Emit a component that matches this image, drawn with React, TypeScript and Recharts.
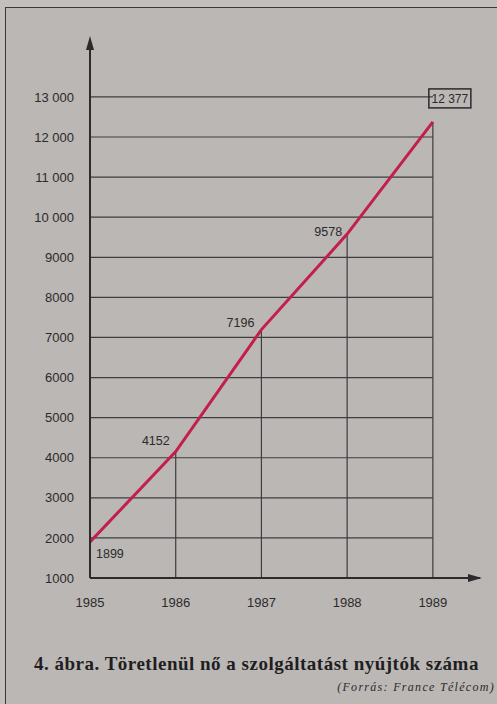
import {
    LineChart,
    Line,
    XAxis,
    YAxis,
    ReferenceLine,
    ReferenceDot,
    LabelList,
} from "recharts";

const YEARS = [1985, 1986, 1987, 1988, 1989];
const PROVIDERS = [1899, 4152, 7196, 9578, 12377];
const Y_TICKS = [1000, 2000, 3000, 4000, 5000, 6000, 7000, 8000, 9000, 10000, 11000, 12000, 13000];
const CAPTION = "4. ábra. Töretlenül nő a szolgáltatást nyújtók száma";
const SOURCE = "(Forrás: France Télécom)";

const data = YEARS.map((year, i) => ({ year, value: PROVIDERS[i] }));

const INK = "#2b2a2c";
const LINE_COLOR = "#c21f4b";
const FONT = "'Liberation Sans', Arial, sans-serif";

// szám formázás: 13 000, de 9000
const fmt = (v: number) =>
    v >= 10000 ? `${Math.floor(v / 1000)} ${String(v % 1000).padStart(3, "0")}` : String(v);

// címkék eltolása pontonként
const LABEL_POS = [
    { dx: 6, dy: 12, anchor: "start" },
    { dx: -6, dy: -11, anchor: "end" },
    { dx: -7, dy: -7, anchor: "end" },
    { dx: -5, dy: -2, anchor: "end" },
];

const renderLabel = (props: any) => {
    const { x, y, value, index } = props;
    if (index === PROVIDERS.length - 1) {
        const text = fmt(value);
        return (
            <g>
                <rect x={x - 4} y={y - 33} width={42} height={19} fill="none" stroke={INK} strokeWidth={1.5} />
                <text x={x + 17} y={y - 19} textAnchor="middle" fontSize={12} fill={INK} fontFamily={FONT}>
                    {text}
                </text>
            </g>
        );
    }
    const p = LABEL_POS[index];
    return (
        <text
            x={x + p.dx}
            y={y + p.dy}
            dy={4}
            textAnchor={p.anchor}
            fontSize={12.5}
            fill={INK}
            fontFamily={FONT}
        >
            {fmt(value)}
        </text>
    );
};

const ArrowUp = (props: any) => {
    const { cx, cy } = props;
    return <path d={`M${cx},${cy - 4} L${cx - 4},${cy + 10} L${cx + 4},${cy + 10} Z`} fill={INK} />;
};

const ArrowRight = (props: any) => {
    const { cx, cy } = props;
    return <path d={`M${cx + 2},${cy} L${cx - 12},${cy - 4} L${cx - 12},${cy + 4} Z`} fill={INK} />;
};

export default function App() {
    return (
        <div
            style={{
                position: "absolute",
                left: 0,
                top: 0,
                width: 497,
                height: 704,
                overflow: "hidden",
                background: "#c3bfbc",
            }}
        >
            {/* keret */}
            <div
                style={{
                    position: "absolute",
                    left: 5,
                    top: 7,
                    width: 520,
                    height: 720,
                    border: "1.5px solid #3a3838",
                    background: "#bbb7b4",
                }}
            />
            <div style={{ position: "absolute", left: 0, top: 0 }}>
                <LineChart
                    width={497}
                    height={704}
                    data={data}
                    margin={{ top: 40, right: 17, bottom: 96, left: 0 }}
                >
                    <XAxis
                        dataKey="year"
                        type="number"
                        domain={[1985, 1989.55]}
                        ticks={YEARS}
                        allowDataOverflow
                        height={30}
                        axisLine={{ stroke: INK, strokeWidth: 2 }}
                        tickLine={false}
                        tickMargin={14}
                        tick={{ fontSize: 13, fill: INK, fontFamily: FONT }}
                    />
                    <YAxis
                        type="number"
                        domain={[1000, 14420]}
                        ticks={Y_TICKS}
                        allowDataOverflow
                        width={90}
                        axisLine={{ stroke: INK, strokeWidth: 2 }}
                        tickLine={false}
                        tickMargin={10}
                        tickFormatter={fmt}
                        tick={{ fontSize: 13, fill: INK, fontFamily: FONT }}
                    />
                    {Y_TICKS.slice(1).map((t) => (
                        <ReferenceLine
                            key={`h-${t}`}
                            segment={[
                                { x: YEARS[0], y: t },
                                { x: YEARS[YEARS.length - 1], y: t },
                            ]}
                            stroke="#3d3c40"
                            strokeWidth={1.2}
                        />
                    ))}
                    {YEARS.slice(1).map((year, i) => (
                        <ReferenceLine
                            key={`v-${year}`}
                            segment={[
                                { x: year, y: Y_TICKS[0] },
                                { x: year, y: PROVIDERS[i + 1] },
                            ]}
                            stroke="#3d3c40"
                            strokeWidth={1.2}
                        />
                    ))}
                    <ReferenceDot x={YEARS[0]} y={14420} r={0} shape={ArrowUp} />
                    <ReferenceDot x={1989.55} y={Y_TICKS[0]} r={0} shape={ArrowRight} />
                    <Line
                        type="linear"
                        dataKey="value"
                        stroke={LINE_COLOR}
                        strokeWidth={3}
                        dot={false}
                        isAnimationActive={false}
                    >
                        <LabelList dataKey="value" content={renderLabel} />
                    </Line>
                </LineChart>
            </div>
            <div
                style={{
                    position: "absolute",
                    left: 34,
                    top: 653,
                    fontFamily: "'Liberation Serif', 'Times New Roman', serif",
                    fontWeight: "bold",
                    fontSize: 19,
                    letterSpacing: 0.5,
                    color: "#1f1e22",
                    whiteSpace: "nowrap",
                }}
            >
                {CAPTION}
            </div>
            <div
                style={{
                    position: "absolute",
                    right: 2,
                    top: 680,
                    fontFamily: "'Liberation Serif', 'Times New Roman', serif",
                    fontStyle: "italic",
                    fontSize: 12,
                    letterSpacing: 1.3,
                    color: "#2a2a2e",
                    whiteSpace: "nowrap",
                }}
            >
                {SOURCE}
            </div>
        </div>
    );
}
